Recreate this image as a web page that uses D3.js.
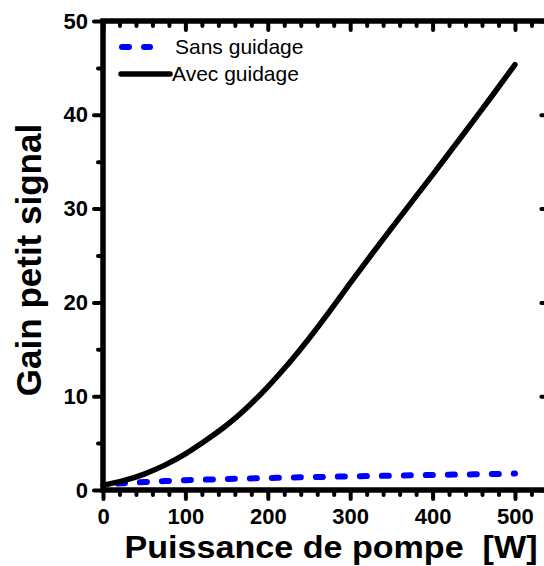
<!DOCTYPE html>
<html>
<head>
<meta charset="utf-8">
<script src="https://cdn.jsdelivr.net/npm/d3@7/dist/d3.min.js"></script>
<style>
  html, body { margin: 0; padding: 0; background: #fff; }
  svg { display: block; }
  text { font-family: "Liberation Sans", Arial, sans-serif; }
</style>
</head>
<body>
<script>
// ---- data ----
const pumpPower   = [0, 25, 50, 75, 100, 125, 150, 175, 200, 225, 250, 275, 300, 325, 350, 375, 400, 425, 450, 475, 500];
const gainWith    = [0.5, 1.0, 1.7, 2.65, 3.85, 5.3, 6.9, 8.8, 11.0, 13.45, 16.15, 19.05, 22.05, 25.0, 27.9, 30.75, 33.6, 36.5, 39.4, 42.35, 45.35];
const gainWithout = [0.6, 0.72, 0.85, 0.95, 1.05, 1.11, 1.17, 1.23, 1.28, 1.33, 1.37, 1.41, 1.45, 1.49, 1.53, 1.57, 1.6, 1.64, 1.67, 1.71, 1.75];
const seriesNames = ["Sans guidage", "Avec guidage"];
const xMajorTicks = [0, 100, 200, 300, 400, 500];
const xMinorTicks = d3.range(20, 541, 20).filter(v => v % 100 !== 0);
const yMajorTicks = [0, 10, 20, 30, 40, 50];
const yMinorTicks = [5, 15, 25, 35, 45];
const xTitle = "Puissance de pompe  [W]";
const yTitle = "Gain petit signal";

const W = 544, H = 566;
const L = 103, R = 550.4, T = 21, B = 490;

const svg = d3.select("body").append("svg").attr("width", W).attr("height", H);

const x = d3.scaleLinear().domain([0, 543]).range([L, R]);
const y = d3.scaleLinear().domain([0, 50]).range([B, T]);

// ---- curves ----
const line = d3.line().x(d => x(d[0])).y(d => y(d[1])).curve(d3.curveNatural);

svg.append("path")
  .datum(pumpPower.map((p, i) => [p, gainWithout[i]]))
  .attr("d", line)
  .attr("fill", "none").attr("stroke", "#0000ff").attr("stroke-width", 6)
  .attr("stroke-linecap", "round")
  .attr("stroke-dasharray", "7 15").attr("stroke-dashoffset", 7);

svg.append("path")
  .datum(pumpPower.map((p, i) => [p, gainWith[i]]))
  .attr("d", line)
  .attr("fill", "none").attr("stroke", "#000").attr("stroke-width", 5.5)
  .attr("stroke-linecap", "round").attr("stroke-linejoin", "round");

// ---- axes ----
function styleAxis(g) {
  g.select(".domain").remove();
  g.selectAll(".tick line").attr("stroke", "#000").attr("stroke-width", 4).attr("stroke-linecap", "round");
  g.selectAll(".tick text").attr("fill", "#000").attr("font-size", 22).attr("font-weight", "bold")
    .attr("font-family", "'Liberation Sans', Arial, sans-serif");
}

// bottom
svg.append("g").attr("transform", `translate(0,${B})`)
  .call(d3.axisBottom(x).tickValues(xMinorTicks).tickSize(5).tickFormat(""))
  .call(styleAxis);
svg.append("g").attr("transform", `translate(0,${B})`)
  .call(d3.axisBottom(x).tickValues(xMajorTicks).tickSize(9).tickPadding(9).tickFormat(d3.format("d")))
  .call(styleAxis);
// top (inward)
svg.append("g").attr("transform", `translate(0,${T})`)
  .call(d3.axisTop(x).tickValues(xMinorTicks).tickSize(-5).tickFormat(""))
  .call(styleAxis);
svg.append("g").attr("transform", `translate(0,${T})`)
  .call(d3.axisTop(x).tickValues(xMajorTicks).tickSize(-9).tickFormat(""))
  .call(styleAxis);
// left
svg.append("g").attr("transform", `translate(${L},0)`)
  .call(d3.axisLeft(y).tickValues(yMinorTicks).tickSize(5).tickFormat(""))
  .call(styleAxis);
svg.append("g").attr("transform", `translate(${L},0)`)
  .call(d3.axisLeft(y).tickValues(yMajorTicks).tickSize(9).tickPadding(6).tickFormat(d3.format("d")))
  .call(styleAxis);
// right (inward)
svg.append("g").attr("transform", `translate(${R},0)`)
  .call(d3.axisRight(y).tickValues(yMinorTicks).tickSize(-3).tickFormat(""))
  .call(styleAxis);
svg.append("g").attr("transform", `translate(${R},0)`)
  .call(d3.axisRight(y).tickValues(yMajorTicks).tickSize(-9).tickFormat(""))
  .call(styleAxis);

// frame lines
svg.append("rect").attr("x", L).attr("y", T).attr("width", R - L).attr("height", B - T)
  .attr("fill", "none").attr("stroke", "#000").attr("stroke-width", 5.5);

// ---- titles ----
svg.append("text").attr("transform", "translate(331,558) scale(1.1,1)").attr("text-anchor", "middle")
  .attr("font-size", 31).attr("font-weight", "bold").style("white-space", "pre")
  .text(xTitle);
svg.append("text").attr("transform", "translate(41,260) rotate(-90)").attr("text-anchor", "middle")
  .attr("font-size", 35).attr("font-weight", "bold")
  .text(yTitle);

// ---- legend ----
const legend = svg.append("g");
legend.append("line").attr("x1", 122).attr("x2", 150).attr("y1", 47).attr("y2", 47)
  .attr("stroke", "#0000ff").attr("stroke-width", 6).attr("stroke-linecap", "round")
  .attr("stroke-dasharray", "7 15");
legend.append("text").attr("x", 175).attr("y", 54).attr("font-size", 21).text(seriesNames[0]);
legend.append("line").attr("x1", 121).attr("x2", 170).attr("y1", 74).attr("y2", 74)
  .attr("stroke", "#000").attr("stroke-width", 5.5).attr("stroke-linecap", "round");
legend.append("text").attr("x", 172).attr("y", 81).attr("font-size", 21).text(seriesNames[1]);
</script>
</body>
</html>
